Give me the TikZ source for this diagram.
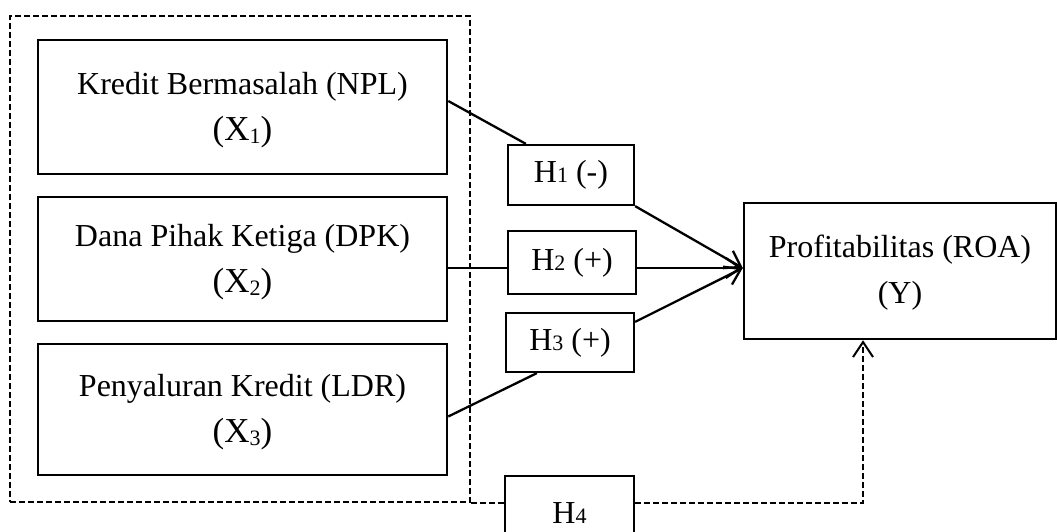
\documentclass[tikz,border=0pt]{standalone}
\usepackage{fontspec}
\setmainfont{Liberation Serif}
\usetikzlibrary{arrows.meta}
\newcommand\smallfig[1]{{\fontsize{22}{22}\selectfont #1}}
\newcommand\xsub[1]{{\fontsize{35}{46}\selectfont (X\raisebox{-3pt}{\fontsize{22}{22}\selectfont #1})}}
\begin{document}
\begin{tikzpicture}[x=1pt,y=-1pt,
  box/.style={draw, line width=2.5pt, inner sep=0pt, align=center, font=\fontsize{32}{46}\selectfont},
  hbox/.style={draw, line width=2.3pt, inner sep=0pt, fill=white, font=\fontsize{32}{38}\selectfont},
  grpbox/.style={draw, line width=1.5pt, dash pattern=on 6pt off 3pt, inner sep=0pt},
  conn/.style={line width=2.3pt},
  barb/.style={-{Straight Barb[length=15pt,width=20pt]}},
  arr/.style={conn, barb},
  dashline/.style={line width=2pt, dash pattern=on 6pt off 3pt}]
\useasboundingbox (0,0) rectangle (1057,532);
\clip (0,0) rectangle (1057,532);
\node[grpbox, minimum width=460pt, minimum height=486pt] (grp) at (240,259) {};
\node[box, minimum width=409pt, minimum height=134pt] (b1) at (242.5,107)
  {\rule{0pt}{28pt}Kredit Bermasalah (NPL)\\\xsub{1}};
\node[box, minimum width=409pt, minimum height=124pt] (b2) at (242.5,259)
  {\rule{0pt}{28pt}Dana Pihak Ketiga (DPK)\\\xsub{2}};
\node[box, minimum width=409pt, minimum height=131pt] (b3) at (242.5,409.5)
  {\rule{0pt}{28pt}Penyaluran Kredit (LDR)\\\xsub{3}};
\node[box, minimum width=312pt, minimum height=136pt] (y) at (900,271)
  {\rule{0pt}{25pt}Profitabilitas (ROA)\\(Y)};
\node[hbox, minimum width=126pt, minimum height=60pt] (h1) at (571,175) {H\smallfig{1} (-)};
\node[hbox, minimum width=128pt, minimum height=63pt] (h2) at (572,262.5) {H\smallfig{2} (+)};
\node[hbox, minimum width=128pt, minimum height=59pt] (h3) at (570,342.5) {H\smallfig{3} (+)};
\node[hbox, minimum width=129pt, minimum height=75pt] (h4) at (569.5,513.5) {H\smallfig{4}};
\coordinate (yin) at ([yshift=3pt]y.west);
\draw[conn] ([yshift=6pt]b1.east) -- ([xshift=19pt]h1.north west);
\draw[arr] (h1.south east) -- (yin);
\draw[conn] (b2.east |- yin) -- (h2.west |- yin);
\draw[arr] (h2.east |- yin) -- (yin);
\draw[conn] ([yshift=-7pt]b3.east) -- ([xshift=32pt]h3.south west);
\draw[arr] ([yshift=-10pt]h3.north east) -- (yin);
\draw[dashline] (grp.south east) -- (grp.south east -| h4.west);
\draw[dashline, barb] (h4.east |- grp.south) -| ([xshift=-37pt]y.south);
\end{tikzpicture}
\end{document}
